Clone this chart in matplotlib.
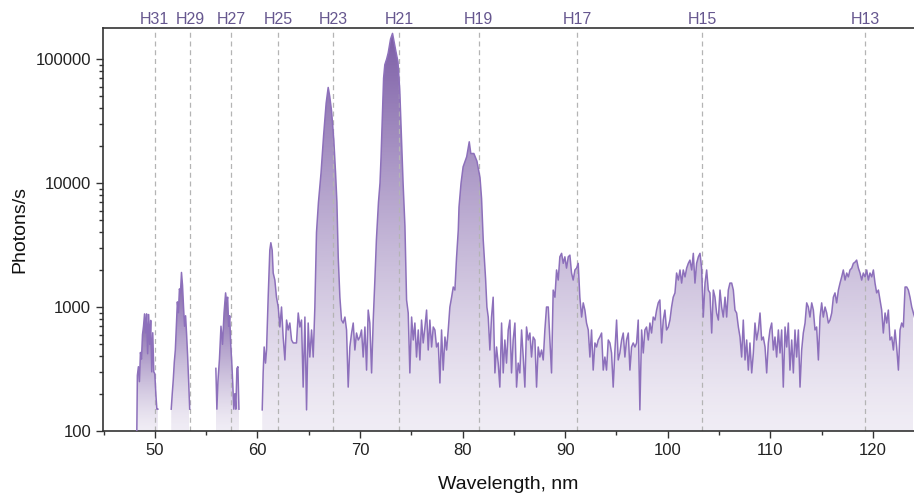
import numpy as np
import matplotlib
matplotlib.use('Agg')
import matplotlib.pyplot as plt
import matplotlib.transforms as mtransforms
from matplotlib.image import AxesImage
from matplotlib.ticker import LogLocator, NullFormatter, MultipleLocator

plt.rcParams['font.family'] = ['Liberation Sans', 'DejaVu Sans']

# harmonic labels on the top axis and their wavelengths (nm)
harmonic_labels = ['H31', 'H29', 'H27', 'H25', 'H23', 'H21', 'H19', 'H17', 'H15', 'H13']
harmonic_nm = [50.0, 53.45, 57.41, 62.0, 67.39, 73.81, 81.58, 91.18, 103.33, 119.23]

# spectrum pieces (gaps where the counts drop out)
h31_nm = [48.22, 48.3, 48.4, 48.5, 48.6, 48.7, 48.8, 48.9, 49.0, 49.1, 49.2,
          49.3, 49.4, 49.5, 49.6, 49.7, 49.8, 49.9, 50.0, 50.1, 50.2, 50.3]
h31_counts = [60, 280, 330, 250, 430, 380, 600, 700, 880, 620, 880,
              420, 870, 500, 780, 300, 620, 300, 290, 200, 150, 150]

h29_nm = [51.6, 51.7, 51.8, 51.9, 52.0, 52.1, 52.2, 52.3, 52.4, 52.5,
          52.6, 52.7, 52.8, 52.9, 53.0, 53.1, 53.2, 53.3, 53.4]
h29_counts = [150, 200, 260, 360, 450, 700, 1100, 900, 1400, 1300,
              1900, 1500, 1000, 700, 850, 600, 400, 250, 150]

h27_nm = [55.95, 56.05, 56.15, 56.3, 56.45, 56.6, 56.75, 56.9, 57.0, 57.1, 57.2,
          57.3, 57.4, 57.5, 57.6, 57.7, 57.8, 57.9, 58.0, 58.1, 58.2]
h27_counts = [320, 150, 250, 380, 700, 500, 900, 1300, 1100, 1200, 700,
              850, 500, 360, 240, 150, 200, 150, 320, 330, 150]

h25_nm = [60.47, 60.56, 60.66, 60.79, 60.89, 61.05, 61.21, 61.31, 61.44, 61.54,
          61.70, 61.86, 62.03, 62.19, 62.35, 62.51, 62.68, 62.84, 63.00, 63.16,
          63.33, 63.49, 63.65, 63.81, 63.98, 64.14, 64.30, 64.46, 64.63, 64.79,
          64.95, 65.11, 65.28, 65.44, 65.60]
h25_counts = [148, 294, 476, 353, 450, 1200, 2880, 3300, 2880, 1880,
              1650, 1200, 1000, 690, 1000, 573, 374, 785, 653, 743,
              542, 513, 513, 513, 895, 690, 785, 226, 830, 148,
              743, 395, 653, 395, 1000]

h23_nm = [65.76, 65.95, 66.2, 66.45, 66.7, 66.9, 67.05, 67.23, 67.45, 67.62, 67.75, 67.88,
          68.04, 68.20, 68.36, 68.53, 68.69, 68.85, 69.01, 69.18, 69.34, 69.50,
          69.66, 69.83, 69.99, 70.15, 70.31, 70.48, 70.64, 70.80, 70.96, 71.13,
          71.29, 71.45]
h23_counts = [4000, 7000, 12000, 24000, 44000, 59000, 50000, 38000, 22000, 12000, 7000, 2500,
              1200, 785, 743, 830, 653, 226, 476, 617, 743, 450,
              617, 542, 573, 653, 395, 690, 310, 945, 743, 294,
              785, 1650]

h21_nm = [71.60, 71.80, 71.95, 72.05, 72.20, 72.30, 72.42, 72.60, 72.75, 72.98, 73.17,
          73.34, 73.50, 73.70, 73.88, 74.05, 74.20, 74.38,
          74.54, 74.70, 74.86, 75.03, 75.19, 75.35, 75.51, 75.68, 75.84, 76.00,
          76.16, 76.33, 76.49, 76.65, 76.81, 76.98, 77.14, 77.30, 77.46, 77.63,
          77.79, 77.95, 78.11, 78.28, 78.44, 78.60, 78.76, 78.93, 79.09, 79.25]
h21_counts = [3500, 7000, 10000, 16000, 40000, 70000, 90000, 100000, 112000, 145000, 161000,
              135000, 115000, 95000, 55000, 22000, 10000, 4500,
              1140, 895, 294, 830, 542, 743, 395, 653, 374, 785,
              513, 690, 945, 450, 785, 476, 690, 653, 476, 513,
              244, 653, 310, 573, 450, 653, 1000, 1200, 1450, 1370]

h19_nm = [79.41, 79.58, 79.65, 79.85, 80.05, 80.40, 80.65, 80.80, 81.10, 81.40, 81.70, 81.85,
          82.01, 82.24, 82.37, 82.50, 82.66, 82.82, 82.98, 83.15, 83.31, 83.47,
          83.63, 83.80, 83.96, 84.12, 84.28, 84.45, 84.61, 84.77, 84.93, 85.10,
          85.26, 85.42, 85.58, 85.75, 85.91, 86.07, 86.23, 86.40, 86.56, 86.72,
          86.88, 87.05, 87.21, 87.37, 87.53, 87.70, 87.86, 88.02, 88.18, 88.35,
          88.51, 88.67]
h19_counts = [2500, 4180, 6400, 10000, 13500, 16300, 21500, 17300, 17300, 15000, 11000, 7500,
              3500, 1700, 1000, 830, 450, 830, 1200, 294, 476, 353,
              226, 743, 294, 542, 353, 653, 785, 294, 542, 743,
              226, 353, 294, 653, 395, 226, 690, 542, 617, 395,
              573, 542, 226, 476, 395, 450, 374, 653, 1000, 1000,
              542, 294]

h17_nm = [88.83, 89.00, 89.16, 89.32, 89.48, 89.65, 89.81, 89.97, 90.13, 90.30,
          90.46, 90.62, 90.78, 90.95, 91.11, 91.27, 91.43, 91.60, 91.76, 91.92,
          92.08, 92.25, 92.41, 92.57, 92.73, 92.90, 93.06, 93.22, 93.38, 93.55,
          93.71, 93.87, 94.03, 94.20, 94.36, 94.52, 94.68, 94.85, 95.01, 95.17,
          95.33, 95.50, 95.66, 95.82, 95.98, 96.15, 96.31, 96.47, 96.63, 96.80,
          96.96, 97.12, 97.28, 97.45, 97.61, 97.77, 97.93, 98.10, 98.26, 98.42,
          98.58, 98.75, 98.91, 99.07, 99.23, 99.40, 99.56, 99.72, 99.88, 100.05,
          100.21, 100.37, 100.53, 100.70]
h17_counts = [1370, 1200, 1990, 1650, 2540, 2710, 2250, 2540, 2060, 2540,
              2620, 1880, 1650, 1990, 2060, 2250, 1200, 830, 1080, 945,
              743, 653, 395, 653, 310, 513, 476, 542, 573, 617,
              310, 395, 310, 542, 513, 426, 226, 450, 785, 374,
              426, 542, 617, 395, 542, 617, 310, 476, 513, 476,
              513, 785, 148, 653, 426, 653, 690, 542, 743, 617,
              830, 785, 945, 1080, 1140, 513, 785, 945, 653, 690,
              785, 1000, 1200, 1300]

h15_nm = [100.86, 101.03, 101.19, 101.35, 101.51, 101.68, 101.84, 102.00, 102.16, 102.33,
          102.49, 102.65, 102.81, 102.98, 103.14, 103.30, 103.46, 103.63, 103.79, 103.95,
          104.11, 104.28, 104.44, 104.60, 104.76, 104.93, 105.09, 105.25, 105.41, 105.58,
          105.74, 105.90, 106.06, 106.23, 106.39, 106.55, 106.71, 106.88, 107.04, 107.20,
          107.36, 107.53, 107.69, 107.85, 108.01, 108.18, 108.34, 108.50, 108.66, 108.83,
          108.99, 109.15, 109.31, 109.48, 109.64, 109.80, 109.96, 110.13, 110.29, 110.45,
          110.61, 110.78, 110.94, 111.10]
h15_counts = [1880, 1650, 1990, 1560, 1990, 1750, 2060, 2250, 2390, 1990,
              2710, 1560, 2250, 2540, 2710, 2060, 830, 1560, 1990, 1370,
              1300, 617, 1370, 1200, 895, 785, 1370, 1000, 830, 1200,
              830, 1370, 1560, 1560, 1370, 945, 895, 690, 573, 395,
              785, 374, 542, 310, 513, 294, 426, 743, 542, 653,
              895, 542, 573, 476, 294, 513, 653, 743, 450, 573,
              395, 653, 426, 653]

h13_nm = [111.26, 111.43, 111.59, 111.75, 111.91, 112.08, 112.24, 112.40, 112.56, 112.73,
          112.89, 113.05, 113.21, 113.38, 113.54, 113.70, 113.86, 114.03, 114.19, 114.35,
          114.51, 114.68, 114.84, 115.00, 115.16, 115.33, 115.49, 115.65, 115.81, 115.98,
          116.14, 116.30, 116.46, 116.63, 116.79, 116.95, 117.11, 117.28, 117.44, 117.60,
          117.76, 117.93, 118.09, 118.25, 118.41, 118.58, 118.74, 118.90, 119.06, 119.23,
          119.39, 119.55, 119.71, 119.88, 120.04, 120.20, 120.36, 120.53, 120.69, 120.85,
          121.01, 121.18, 121.34, 121.50, 121.66, 121.83, 121.99, 122.15, 122.31, 122.48,
          122.64, 122.80, 122.96, 123.13, 123.29, 123.45, 123.61, 123.78, 123.94, 124.10]
h13_counts = [226, 690, 476, 743, 310, 542, 294, 653, 395, 653,
              226, 450, 617, 743, 1080, 1000, 830, 1080, 945, 653,
              690, 374, 830, 1080, 830, 1000, 895, 743, 785, 895,
              1200, 1300, 1080, 1370, 1560, 1750, 1990, 1650, 1880, 1750,
              1990, 2060, 2250, 2300, 2390, 2060, 1880, 1650, 1880, 1750,
              1990, 1650, 1880, 1750, 1990, 1560, 1300, 1370, 1140, 945,
              617, 895, 743, 945, 542, 573, 450, 653, 476, 310,
              653, 743, 690, 1450, 1450, 1370, 1200, 1000, 895, 800]

segments = [
    (h31_nm, h31_counts),
    (h29_nm, h29_counts),
    (h27_nm, h27_counts),
    (h25_nm + h23_nm + h21_nm + h19_nm + h17_nm + h15_nm + h13_nm,
     h25_counts + h23_counts + h21_counts + h19_counts + h17_counts + h15_counts + h13_counts),
]

line_color = '#8d70bb'
fill_rgb = np.array([118, 86, 162]) / 255.0
xlim = (44.95, 124.0)
ylim = (100, 178000)


def gradient_fill(ax, nm, counts):
    """Fill under one piece of the spectrum with a vertical purple fade."""
    nm = np.asarray(nm, dtype=float)
    counts = np.asarray(counts, dtype=float)
    poly = ax.fill_between(nm, counts, 1, facecolor='none', edgecolor='none')
    lo, hi = np.log10(ylim)
    top = (np.log10(counts.max()) - lo) / (hi - lo)
    f = np.linspace(0, 1, 256) ** 1.3
    rgba = np.zeros((256, 1, 4))
    rgba[..., :3] = fill_rgb
    rgba[..., 3] = (0.11 + 0.85 * f)[:, None]
    im = AxesImage(ax, extent=(nm.min(), nm.max(), 0, top), origin='lower',
                   interpolation='bilinear')
    im.set_data(rgba)
    im.set_transform(mtransforms.blended_transform_factory(ax.transData, ax.transAxes))
    im.set_clip_path(poly.get_paths()[0], ax.transData)
    im.set_zorder(1)
    ax.add_image(im)


fig = plt.figure(figsize=(9.14, 4.95), dpi=100)
ax = fig.add_axes([103 / 914, 1 - 431 / 495, (914 - 103) / 914, (431 - 28) / 495])
ax.set_yscale('log')
ax.set_xlim(*xlim)
ax.set_ylim(*ylim)

for nm, counts in segments:
    assert len(nm) == len(counts)
    gradient_fill(ax, nm, counts)

for pos in harmonic_nm:
    ax.axvline(pos, color='#b4b4b4', lw=0.9, ls=(0, (4, 3)), zorder=2)

for nm, counts in segments:
    ax.plot(nm, counts, color=line_color, lw=1.1, zorder=3)

ax.set_xlim(*xlim)
ax.set_ylim(*ylim)

# axes styling
for side in ['left', 'bottom', 'top']:
    ax.spines[side].set_color('#333333')
    ax.spines[side].set_linewidth(1.2)
ax.spines['right'].set_visible(False)

ax.set_yticks([100, 1000, 10000, 100000], ['100', '1000', '10000', '100000'])
ax.yaxis.set_minor_locator(LogLocator(base=10, subs=np.arange(2, 10)))
ax.yaxis.set_minor_formatter(NullFormatter())
ax.xaxis.set_major_locator(MultipleLocator(10))
ax.xaxis.set_minor_locator(MultipleLocator(5))
ax.tick_params(axis='both', which='major', direction='out', length=5, width=1,
               color='#333333', labelsize=12, labelcolor='#222222')
ax.tick_params(axis='both', which='minor', direction='out', length=3, width=1,
               color='#333333')
ax.tick_params(axis='x', top=False)

ax.set_xlabel('Wavelength, nm', fontsize=14, labelpad=13, color='#111111')
ax.set_ylabel('Photons/s', fontsize=14, labelpad=5, color='#111111')

top = ax.secondary_xaxis('top')
top.set_xticks(harmonic_nm, harmonic_labels)
top.tick_params(length=0, pad=1, labelsize=11.5, labelcolor='#66578f')
top.spines['top'].set_visible(False)

fig.savefig('out.png', dpi=100)
